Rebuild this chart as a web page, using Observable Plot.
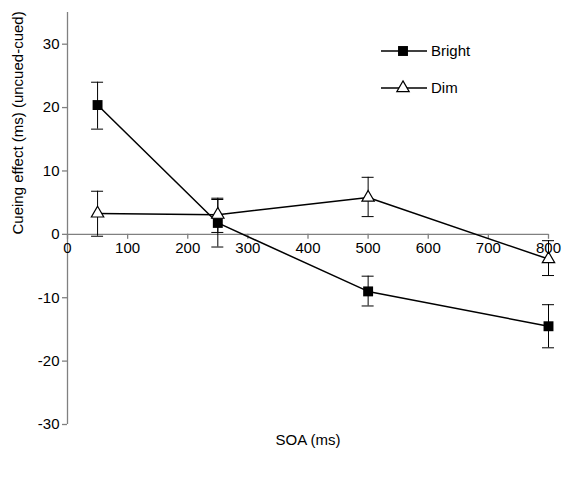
<!DOCTYPE html>
<html>
<head>
<meta charset="utf-8">
<script src="https://cdn.jsdelivr.net/npm/d3@7"></script>
<script src="https://cdn.jsdelivr.net/npm/@observablehq/plot@0.6"></script>
<style>
  html, body { margin: 0; padding: 0; background: #fff; }
  #chart { position: relative; width: 566px; height: 482px; font-family: "Liberation Sans", Arial, sans-serif; }
  #legend { position: absolute; left: 0; top: 0; }
</style>
</head>
<body>
<div id="chart"></div>
<script>
// ---- data ----
const soa = [50, 250, 500, 800];
const brightMean = [20.4, 1.8, -9.0, -14.5];
const brightLo   = [16.6, -2.0, -11.3, -17.9];
const brightHi   = [24.0, 5.7, -6.6, -11.1];
const dimMean    = [3.3, 3.1, 5.8, -3.9];
const dimLo      = [-0.3, 0.3, 2.8, -6.5];
const dimHi      = [6.8, 5.5, 9.0, -1.0];
const seriesNames = ["Bright", "Dim"];
const xTicks = [0, 100, 200, 300, 400, 500, 600, 700, 800];
const yTicks = [-30, -20, -10, 0, 10, 20, 30];
const xDomain = [0, 800];
const yDomain = [-30, 35];
const xLabel = "SOA (ms)";
const yLabel = "Cueing effect (ms) (uncued-cued)";

const rows = [];
soa.forEach((x, i) => rows.push({cond: "Bright", soa: x, mean: brightMean[i], lo: brightLo[i], hi: brightHi[i]}));
soa.forEach((x, i) => rows.push({cond: "Dim", soa: x, mean: dimMean[i], lo: dimLo[i], hi: dimHi[i]}));
const bright = rows.filter(d => d.cond === "Bright");
const dim = rows.filter(d => d.cond === "Dim");

const FONT = "Liberation Sans, Arial, sans-serif";
const AX = "#808080";
const SQ_R = 5.6, TRI_R = 4.6;

const plot = Plot.plot({
  width: 566,
  height: 482,
  marginLeft: 67,
  marginRight: 18,
  marginTop: 12,
  marginBottom: 58,
  style: {fontFamily: FONT, fontSize: "15px", background: "#fff", color: "#000"},
  x: {domain: xDomain, axis: null},
  y: {domain: yDomain, axis: null},
  marks: [
    // y axis line and ticks
    Plot.ruleX([xDomain[0]], {y1: yDomain[0], y2: yDomain[1], stroke: AX, strokeWidth: 1.3}),
    Plot.ruleY(yTicks, {y: d => d, x1: xDomain[0], x2: xDomain[0], insetLeft: -5, stroke: AX, strokeWidth: 1.3}),
    Plot.text(yTicks, {x: xDomain[0], y: d => d, text: d => String(d), textAnchor: "end", dx: -8, fontSize: 15, fill: "#000"}),
    // x axis at y=0
    Plot.ruleY([0], {x1: xDomain[0], x2: xDomain[1], stroke: AX, strokeWidth: 1.3}),
    Plot.ruleX(xTicks, {x: d => d, y1: 0, y2: 0, insetBottom: -5, stroke: AX, strokeWidth: 1.3}),
    Plot.text(xTicks, {x: d => d, y: 0, text: d => String(d), dy: 14, fontSize: 15, fill: "#000"}),
    // axis titles
    Plot.text([yLabel], {frameAnchor: "left", rotate: -90, dx: -49, dy: 16, fontSize: 15, fill: "#000"}),
    Plot.text([xLabel], {frameAnchor: "bottom", dy: 20, fontSize: 15, fill: "#000"}),
    // lines
    Plot.line(rows, {x: "soa", y: "mean", z: "cond", stroke: "#000", strokeWidth: 1.5}),
    // error bars
    Plot.ruleX(rows, {x: "soa", y1: "lo", y2: "hi", stroke: "#000", strokeWidth: 1}),
    Plot.ruleY(rows, {y: "hi", x1: "soa", x2: "soa", insetLeft: -6, insetRight: -6, stroke: "#000", strokeWidth: 1}),
    Plot.ruleY(rows, {y: "lo", x1: "soa", x2: "soa", insetLeft: -6, insetRight: -6, stroke: "#000", strokeWidth: 1}),
    // markers
    Plot.dot(bright, {x: "soa", y: "mean", symbol: "square", r: SQ_R, fill: "#000", stroke: "none"}),
    Plot.dot(dim, {x: "soa", y: "mean", symbol: "triangle", r: TRI_R, fill: "#fff", stroke: "#000", strokeWidth: 1.2})
  ]
});
const chart = document.getElementById("chart");
chart.appendChild(plot);

// ---- legend overlay ----
const lg = d3.select(chart).append("svg")
  .attr("id", "legend").attr("width", 566).attr("height", 482)
  .style("pointer-events", "none");
const legendItems = [
  {name: seriesNames[0], y: 51, symbol: d3.symbolSquare, size: Math.PI * SQ_R * SQ_R, fill: "#000"},
  {name: seriesNames[1], y: 88, symbol: d3.symbolTriangle, size: Math.PI * TRI_R * TRI_R, fill: "#fff"}
];
const g = lg.selectAll("g").data(legendItems).join("g").attr("transform", d => `translate(0,${d.y})`);
g.append("line").attr("x1", 381).attr("x2", 427).attr("y1", 0).attr("y2", 0)
  .attr("stroke", "#000").attr("stroke-width", 1.3);
g.append("path").attr("transform", "translate(403,0)")
  .attr("d", d => d3.symbol(d.symbol, d.size)())
  .attr("fill", d => d.fill).attr("stroke", d => d.fill === "#000" ? "none" : "#000").attr("stroke-width", 1.2);
g.append("text").attr("x", 431).attr("y", 0).attr("dy", "0.35em")
  .attr("font-family", FONT).attr("font-size", 15).attr("fill", "#000")
  .text(d => d.name);
</script>
</body>
</html>
